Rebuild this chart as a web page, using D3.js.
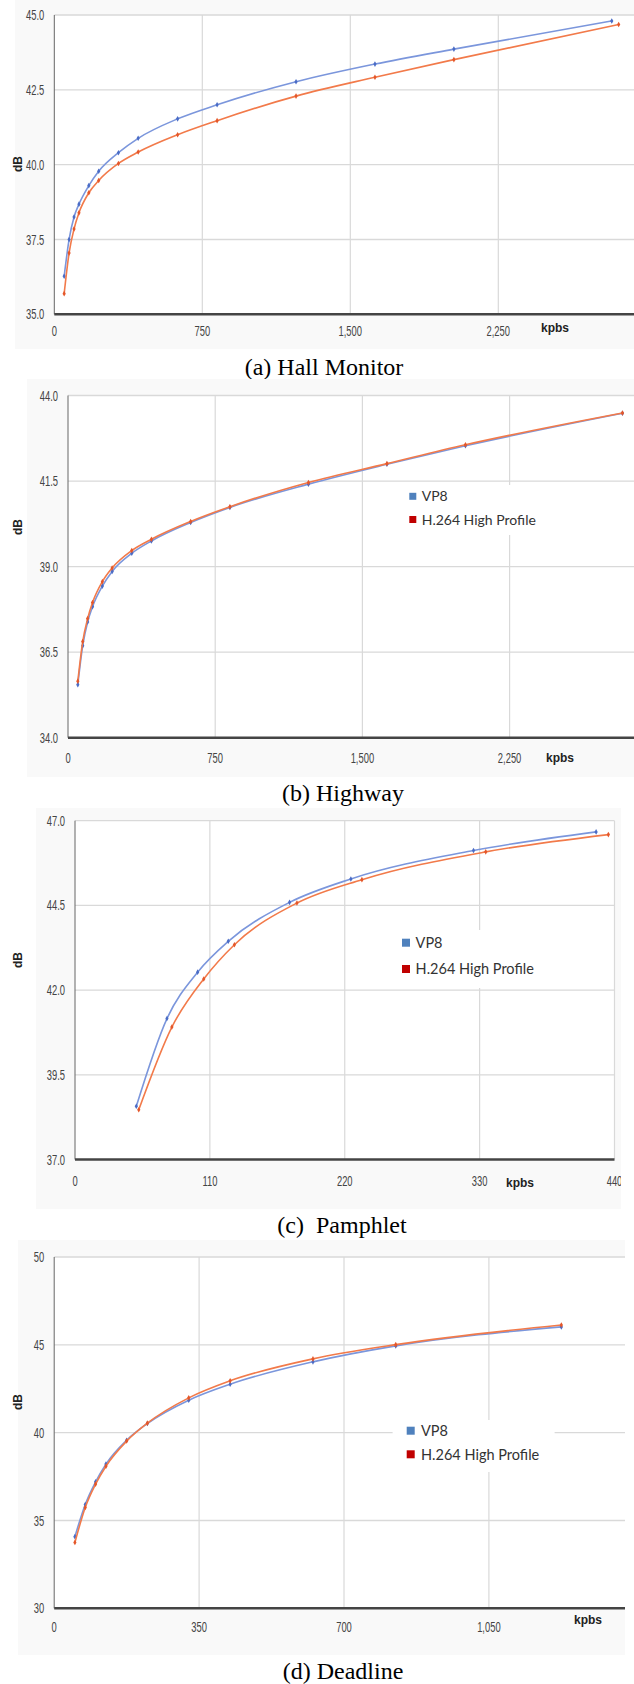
<!DOCTYPE html>
<html>
<head>
<meta charset="utf-8">
<script src="https://cdn.jsdelivr.net/npm/d3@7"></script>
<style>
  body { margin: 0; background: #fff; }
  svg { display: block; }
</style>
</head>
<body>
<div id="fig"></div>
<script>
// values (kbps, dB)
var hallKbps     = [50, 75, 100, 125, 175, 225, 325, 425, 625, 825, 1225, 1625, 2025, 2825];
var hallKbpsH264 = [50, 75, 100, 125, 175, 225, 325, 425, 625, 825, 1225, 1625, 2025, 2860];
var hallVp8      = [36.27, 37.50, 38.25, 38.68, 39.30, 39.78, 40.40, 40.88, 41.53, 42.00, 42.77, 43.36, 43.86, 44.80];
var hallH264     = [35.69, 37.05, 37.85, 38.39, 39.06, 39.47, 40.04, 40.42, 41.00, 41.47, 42.29, 42.92, 43.51, 44.68];

var highwayKbps  = [50, 75, 100, 125, 175, 225, 325, 425, 625, 825, 1225, 1625, 2025, 2825];
var highwayVp8   = [35.55, 36.69, 37.38, 37.83, 38.43, 38.86, 39.39, 39.75, 40.29, 40.73, 41.41, 41.99, 42.53, 43.48];
var highwayH264  = [35.65, 36.81, 37.48, 37.95, 38.56, 38.96, 39.47, 39.80, 40.32, 40.75, 41.46, 42.01, 42.56, 43.49];

var pamphletKbpsVp8  = [50, 75, 100, 125, 175, 225, 325, 425];
var pamphletKbpsH264 = [52, 79, 105, 130, 181, 234, 335, 435];
var pamphletVp8      = [38.57, 41.16, 42.53, 43.44, 44.59, 45.28, 46.12, 46.67];
var pamphletH264     = [38.47, 40.91, 42.33, 43.34, 44.57, 45.26, 46.08, 46.59];

var deadlineKbps = [50, 75, 100, 125, 175, 225, 325, 425, 625, 825, 1225];
var deadlineVp8  = [34.08, 35.91, 37.20, 38.21, 39.57, 40.52, 41.85, 42.76, 44.03, 44.94, 46.02];
var deadlineH264 = [33.75, 35.74, 37.07, 38.09, 39.52, 40.54, 41.98, 42.95, 44.20, 45.01, 46.13];

// tick labels
var hallXTicks = [0, 750, 1500, 2250];
var hallYTicks = [35, 37.5, 40, 42.5, 45];
var highwayXTicks = [0, 750, 1500, 2250];
var highwayYTicks = [34, 36.5, 39, 41.5, 44];
var pamphletXTicks = [0, 110, 220, 330, 440];
var pamphletYTicks = [37, 39.5, 42, 44.5, 47];
var deadlineXTicks = [0, 350, 700, 1050];
var deadlineYTicks = [30, 35, 40, 45, 50];

var seriesNames = ["VP8", "H.264 High Profile"];
var captions = ["(a) Hall Monitor", "(b) Highway", "(c)  Pamphlet", "(d) Deadline"];

var lineColors = ["#7b96dc", "#f27a4a"];
var markColors = ["#4a6cc6", "#e4572a"];
var legendColors = ["#4f81bd", "#c00000"];

var panels = [
  { box: [15, 0, 634, 349], xDom: [0, 3000], xRange: [54.3, 646.3], yDom: [35, 45], yRange: [314.3, 15],
    gridRight: 634, xTicks: hallXTicks, yTicks: hallYTicks, yFmt: d3.format(".1f"), xLabY: 331,
    kpbs: [541, 328], dB: 164, caption: [324, 375], legend: null,
    series: [[hallKbps, hallVp8], [hallKbpsH264, hallH264]] },
  { box: [27, 379, 634, 777], xDom: [0, 3000], xRange: [68, 656.8], yDom: [34, 44], yRange: [737.7, 395.5],
    gridRight: 634, xTicks: highwayXTicks, yTicks: highwayYTicks, yFmt: d3.format(".1f"), xLabY: 758,
    kpbs: [546, 758], dB: 527, caption: [343, 801],
    legend: { box: [393, 485, 157, 50], sqX: 409.3, sq: 7, rows: [496.3, 519.5], textX: 421.7, size: 14 },
    series: [[highwayKbps, highwayVp8], [highwayKbps, highwayH264]] },
  { box: [36, 808, 621, 1209], xDom: [0, 440], xRange: [75, 614.5], yDom: [37, 47], yRange: [1159.5, 820.7],
    gridRight: 614.5, xTicks: pamphletXTicks, yTicks: pamphletYTicks, yFmt: d3.format(".1f"), xLabY: 1181,
    kpbs: [506, 1183], dB: 960, caption: [342, 1233],
    legend: { box: [386, 930, 160, 58], sqX: 402, sq: 8, rows: [942.7, 969], textX: 415.6, size: 14.5 },
    series: [[pamphletKbpsVp8, pamphletVp8], [pamphletKbpsH264, pamphletH264]] },
  { box: [18, 1240, 625, 1655], xDom: [0, 1400], xRange: [54.2, 633.8], yDom: [30, 50], yRange: [1608.3, 1257],
    gridRight: 625, xTicks: deadlineXTicks, yTicks: deadlineYTicks, yFmt: d3.format("d"), xLabY: 1627,
    kpbs: [574, 1620], dB: 1402, caption: [343, 1679],
    legend: { box: [392.6, 1420, 162, 52], sqX: 406.7, sq: 8, rows: [1430.7, 1454.3], textX: 421, size: 14.5 },
    series: [[deadlineKbps, deadlineVp8], [deadlineKbps, deadlineH264]] }
];

var svg = d3.select("#fig").append("svg")
  .attr("width", 634)
  .attr("height", 1684);

// the chart labels use a narrow face; squeeze a normal sans to fit
function squeeze(sel, k) {
  sel.each(function() {
    var w = this.getComputedTextLength();
    d3.select(this).attr("textLength", w * k).attr("lengthAdjust", "spacingAndGlyphs");
  });
}

panels.forEach(function(p, i) {
  var g = svg.append("g");
  var b = p.box;

  g.append("clipPath").attr("id", "clip" + i)
    .append("rect").attr("x", b[0]).attr("y", b[1]).attr("width", b[2] - b[0]).attr("height", b[3] - b[1]);

  var inner = g.append("g").attr("clip-path", "url(#clip" + i + ")");

  inner.append("rect")
    .attr("x", b[0]).attr("y", b[1])
    .attr("width", b[2] - b[0]).attr("height", b[3] - b[1])
    .attr("fill", "#f9f9f9");

  var x = d3.scaleLinear().domain(p.xDom).range(p.xRange);
  var y = d3.scaleLinear().domain(p.yDom).range(p.yRange);
  var left = p.xRange[0], top = p.yRange[1], bottom = p.yRange[0];

  inner.append("rect")
    .attr("x", left).attr("y", top)
    .attr("width", p.gridRight - left).attr("height", bottom - top)
    .attr("fill", "#fff");

  // grid
  inner.selectAll(".vgrid")
    .data(p.xTicks.filter(function(d) { return d > 0; }))
    .enter().append("line")
    .attr("x1", function(d) { return x(d); }).attr("x2", function(d) { return x(d); })
    .attr("y1", top).attr("y2", bottom)
    .attr("stroke", "#d9d9d9").attr("stroke-width", 1.2);

  inner.selectAll(".hgrid")
    .data(p.yTicks.slice(1))
    .enter().append("line")
    .attr("x1", left).attr("x2", p.gridRight)
    .attr("y1", function(d) { return y(d); }).attr("y2", function(d) { return y(d); })
    .attr("stroke", "#d9d9d9").attr("stroke-width", 1.3);

  // axes lines
  inner.append("line")
    .attr("x1", left).attr("x2", left).attr("y1", top).attr("y2", bottom)
    .attr("stroke", "#666").attr("stroke-width", 1);
  inner.append("line")
    .attr("x1", left).attr("x2", p.gridRight).attr("y1", bottom).attr("y2", bottom)
    .attr("stroke", "#444").attr("stroke-width", 2.4);

  // tick labels
  inner.selectAll(".ylab")
    .data(p.yTicks)
    .enter().append("text")
    .attr("x", left - 10).attr("y", function(d) { return y(d); })
    .attr("dy", "0.36em")
    .attr("text-anchor", "end")
    .attr("font-family", "Liberation Sans, Arial, sans-serif")
    .attr("font-size", 14)
    .attr("fill", "#444")
    .text(p.yFmt)
    .call(squeeze, 0.67);

  inner.selectAll(".xlab")
    .data(p.xTicks)
    .enter().append("text")
    .attr("x", function(d) { return x(d); }).attr("y", p.xLabY)
    .attr("dy", "0.36em")
    .attr("text-anchor", "middle")
    .attr("font-family", "Liberation Sans, Arial, sans-serif")
    .attr("font-size", 14)
    .attr("fill", "#444")
    .text(d3.format(","))
    .call(squeeze, 0.67);

  inner.append("text")
    .attr("x", p.kpbs[0]).attr("y", p.kpbs[1])
    .attr("dy", "0.35em")
    .attr("font-family", "Liberation Sans, Arial, sans-serif")
    .attr("font-weight", "bold").attr("font-size", 12)
    .attr("fill", "#222")
    .text("kpbs");

  // y title sits left of the grey panel box, so keep it outside the clip
  svg.append("text")
    .attr("transform", "translate(22," + p.dB + ") rotate(-90)")
    .attr("text-anchor", "middle")
    .attr("font-family", "Liberation Sans, Arial, sans-serif")
    .attr("font-weight", "bold").attr("font-size", 12)
    .attr("fill", "#222")
    .text("dB");

  // legend box sits over the grid
  if (p.legend) {
    var L = p.legend;
    inner.append("rect")
      .attr("x", L.box[0]).attr("y", L.box[1]).attr("width", L.box[2]).attr("height", L.box[3])
      .attr("fill", "#fff");
    seriesNames.forEach(function(name, k) {
      inner.append("rect")
        .attr("x", L.sqX).attr("y", L.rows[k] - L.sq / 2)
        .attr("width", L.sq).attr("height", L.sq)
        .attr("fill", legendColors[k]);
      inner.append("text")
        .attr("x", L.textX).attr("y", L.rows[k])
        .attr("dy", "0.36em")
        .attr("font-family", "Lato, Open Sans, sans-serif")
        .attr("font-size", L.size)
        .attr("fill", "#333")
        .text(name);
    });
  }

  // curves
  var line = d3.line()
    .x(function(d) { return x(d[0]); })
    .y(function(d) { return y(d[1]); })
    .curve(d3.curveMonotoneX);

  p.series.forEach(function(s, k) {
    var pts = d3.zip(s[0], s[1]);
    inner.append("path")
      .datum(pts)
      .attr("d", line)
      .attr("fill", "none")
      .attr("stroke", lineColors[k])
      .attr("stroke-width", 1.6);

    inner.selectAll(".mk" + k)
      .data(pts)
      .enter().append("path")
      .attr("transform", function(d) { return "translate(" + x(d[0]) + "," + y(d[1]) + ")"; })
      .attr("d", d3.symbol().type(d3.symbolDiamond).size(9))
      .attr("fill", markColors[k]);
  });

  // caption under the panel
  svg.append("text")
    .attr("x", p.caption[0]).attr("y", p.caption[1])
    .attr("text-anchor", "middle")
    .attr("font-family", "Liberation Serif, Times New Roman, serif")
    .attr("font-size", 24)
    .attr("fill", "#000")
    .style("white-space", "pre")
    .text(captions[i]);
});
</script>
</body>
</html>
